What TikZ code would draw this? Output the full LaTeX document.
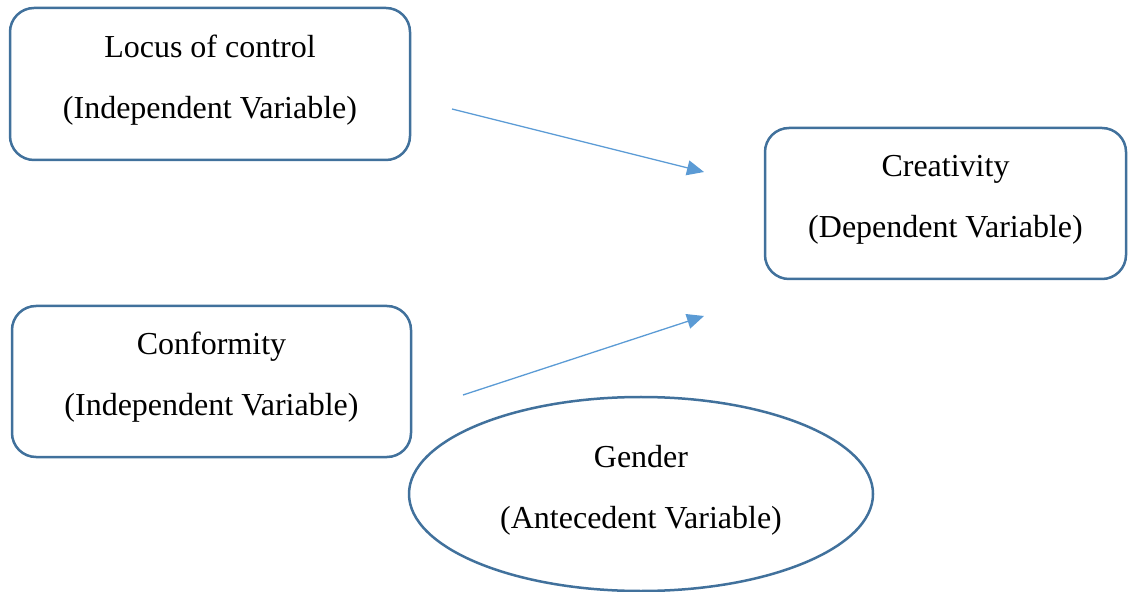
\documentclass[tikz,border=0pt]{standalone}
\usepackage{fontspec}
\setmainfont{Liberation Serif}
\usetikzlibrary{arrows.meta,shapes.geometric}
\definecolor{boxblue}{HTML}{41719C}
\definecolor{linkblue}{HTML}{5B9BD5}

\begin{document}
\begin{tikzpicture}[x = 0.5pt, y = -0.5pt,
    varbox/.style = {draw=boxblue, line width=1.25pt, rounded corners=12pt, align=center, inner sep=0pt, font=\fontsize{16}{30.5}\selectfont},
    varoval/.style = {ellipse, draw=boxblue, line width=1.25pt, fill=white, align=center, inner sep=0pt, font=\fontsize{16}{30.5}\selectfont},
    link/.style = {draw=linkblue, line width=0.65pt, -{Triangle[length=8.5pt,width=7.5pt]}}]
    \useasboundingbox (0,0) rectangle (1128,592);
    \node[varbox, minimum width=200pt, minimum height=76pt] (locus) at (210,84) {Locus of control\\(Independent Variable)\\[-23pt]};
    \node[varbox, minimum width=199.5pt, minimum height=75.5pt] (conform) at (211.5,381.5) {Conformity\\(Independent Variable)\\[-23pt]};
    \node[varbox, minimum width=180.5pt, minimum height=75.5pt] (creat) at (945.5,203.5) {Creativity\\(Dependent Variable)\\[-23pt]};
    \node[varoval, minimum width=232pt, minimum height=97pt] (gender) at (641,494) {Gender\\(Antecedent Variable)\\[-23pt]};
    \coordinate (locusout) at (452,109);
    \coordinate (conformout) at (463,395);
    \coordinate (creatinA) at (704,172);
    \coordinate (creatinB) at (704,316);
    \draw[link] (locusout) -- (creatinA);
    \draw[link] (conformout) -- (creatinB);
\end{tikzpicture}
\end{document}
